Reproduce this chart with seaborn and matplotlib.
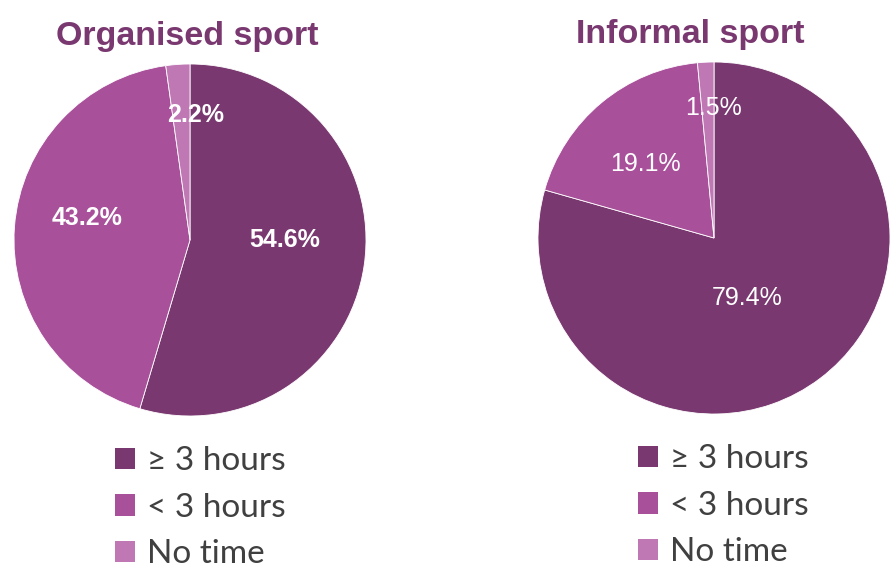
import matplotlib
matplotlib.use("Agg")
import matplotlib.pyplot as plt
import numpy as np
import seaborn as sns
from matplotlib.patches import Patch

categories = ["\u2265 3 hours", "< 3 hours", "No time"]
organised = [54.6, 43.2, 2.2]
informal = [79.4, 19.1, 1.5]
titles = ["Organised sport", "Informal sport"]

sns.set_theme(style="white")
plt.rcParams["font.family"] = ["Liberation Sans", "DejaVu Sans"]

colors = ["#7a3870", "#a8509a", "#c078b5"]
title_color = "#7a3870"

W, H = 894, 573
fig = plt.figure(figsize=(W / 100, H / 100), dpi=100)


def px_axes(cx, cy, r):
    return fig.add_axes([(cx - r) / W, (H - cy - r) / H, 2 * r / W, 2 * r / H])


def draw_pie(ax, values, label_r, label_turn, weight):
    wedges, _ = ax.pie(values, colors=colors, startangle=90, counterclock=False,
                       radius=1, wedgeprops=dict(edgecolor="white", linewidth=0.6))
    for w, v, lr, dt in zip(wedges, values, label_r, label_turn):
        ang = np.deg2rad((w.theta1 + w.theta2) / 2 + dt)
        ax.text(lr * np.cos(ang), lr * np.sin(ang), f"{v:.1f}%", ha="center", va="center",
                color="white", fontsize=18, fontweight=weight)
    ax.set_xlim(-1, 1)
    ax.set_ylim(-1, 1)
    ax.set_aspect("equal")
    ax.axis("off")


ax1 = px_axes(190, 240, 176)
draw_pie(ax1, organised, [0.54, 0.6, 0.71], [8.3, -7.7, -6.7], "bold")
ax2 = px_axes(714, 238, 176)
draw_pie(ax2, informal, [0.39, 0.57, 0.74], [-8, 3, -2.3], "normal")

for x, y, t in [(187, 36, titles[0]), (690, 34, titles[1])]:
    fig.text(x / W, 1 - y / H, t, ha="center", va="center", fontsize=24.5,
             fontweight="bold", color=title_color)

handles = [Patch(facecolor=c, edgecolor="none") for c in colors]
for x, y in [(115, 446), (638, 444)]:
    fig.legend(handles, categories, loc="upper left", bbox_to_anchor=(x / W, 1 - y / H),
               frameon=False, handlelength=0.6, handleheight=0.6,
               handletextpad=0.36, labelspacing=0.5, borderpad=0, borderaxespad=0,
               labelcolor="#404040", prop={"family": ["Lato", "DejaVu Sans"], "size": 24})

fig.savefig("out.png", dpi=100)
